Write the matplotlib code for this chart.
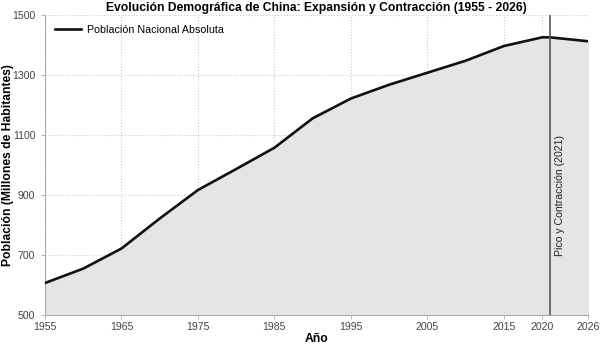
import matplotlib
matplotlib.use("Agg")
import matplotlib.pyplot as plt

plt.rcParams['font.family'] = ['Liberation Sans', 'DejaVu Sans']

years = [1955, 1960, 1965, 1970, 1975, 1980, 1985, 1990, 1995, 2000, 2005, 2010, 2015, 2020, 2021, 2026]
population = [607, 655, 722, 822, 917, 987, 1058, 1156, 1222, 1268, 1308, 1348, 1397, 1426, 1426, 1413]
x_ticks = [1955, 1965, 1975, 1985, 1995, 2005, 2015, 2020, 2026]
y_ticks = [500, 700, 900, 1100, 1300, 1500]
peak_year = 2021

fig = plt.figure(figsize=(6, 3.44), dpi=100)
ax = fig.add_axes([0.075, 0.084, 0.905, 0.872])

ax.fill_between(years, population, 500, color='#e5e5e5', zorder=1)
ax.plot(years, population, color='#111111', lw=1.9, zorder=3, label='Población Nacional Absoluta')
ax.axvline(peak_year, color='#5a5a5a', lw=1.2, zorder=4)
ax.text(peak_year + 1.3, 900, 'Pico y Contracción (2021)', rotation=90, ha='center', va='center',
        fontsize=7.6, color='#222222', zorder=5)

ax.set_xlim(1955, 2026)
ax.set_ylim(500, 1500)
ax.set_xticks(x_ticks)
ax.set_yticks(y_ticks)
ax.grid(True, color='#cccccc', linestyle=':', lw=0.8, zorder=0)
ax.set_axisbelow(True)

for side in ['top', 'right']:
    ax.spines[side].set_visible(False)
for side in ['left', 'bottom']:
    ax.spines[side].set_color('#aaaaaa')
    ax.spines[side].set_linewidth(0.8)
ax.tick_params(axis='both', colors='#aaaaaa', labelcolor='#444444', labelsize=7.6, length=3, width=0.6)
ax.tick_params(axis='y', pad=4)
ax.tick_params(axis='x', pad=2)

ax.set_title('Evolución Demográfica de China: Expansión y Contracción (1955 - 2026)',
             fontsize=8.7, fontweight='bold', pad=3)
ax.set_xlabel('Año', fontsize=8.7, fontweight='bold', labelpad=1)
ax.set_ylabel('Población (Millones de Habitantes)', fontsize=8.7, fontweight='bold')
ax.yaxis.set_label_coords(-0.058, 0.5)

ax.legend(loc='upper left', frameon=False, fontsize=7.7, handlelength=2.5, handletextpad=0.5,
          borderaxespad=0.5)

fig.savefig('out.png', dpi=100)
